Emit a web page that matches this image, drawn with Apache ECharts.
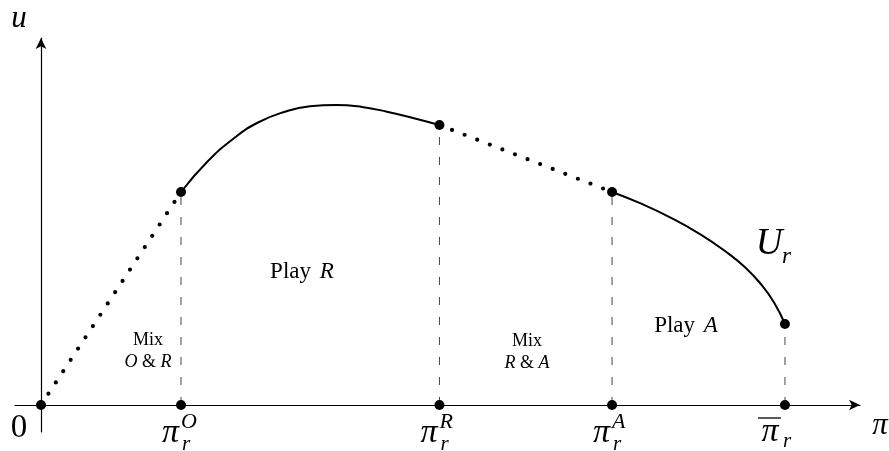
<!DOCTYPE html>
<html>
<head>
<meta charset="utf-8">
<script src="https://cdn.jsdelivr.net/npm/echarts@6/dist/echarts.min.js"></script>
<style>
    html, body { margin: 0; padding: 0; background: #fff; }
    #main { width: 889px; height: 451px; }
</style>
</head>
<body>
<div id="main"></div>
<script>
    // key points: 0, pi_r^O, pi_r^R, pi_r^A, bar pi_r
    var piKeys = [0, 1.0, 2.846, 4.079, 5.314];
    var uKeys = [0, 2.13, 2.80, 2.13, 0.81];
    var tickSups = ['', 'O', 'R', 'A', ''];

    // U_r on the "Play R" stretch
    var playRPi = [1.0, 1.186, 1.371, 1.55, 1.736, 1.921, 2.107, 2.293, 2.471, 2.657, 2.846];
    var playRU = [2.13, 2.43, 2.66, 2.825, 2.93, 2.987, 3.0, 2.98, 2.933, 2.87, 2.80];

    // U_r on the "Play A" stretch
    var playAPi = [4.079, 4.279, 4.493, 4.707, 4.9, 5.029, 5.136, 5.236, 5.314];
    var playAU = [2.13, 2.018, 1.877, 1.709, 1.525, 1.377, 1.22, 1.026, 0.81];

    // region texts (centre of each line) and their sizes
    var regionText = ['Mix', '{i|O} & {i|R}', 'Play {b|R}', 'Mix', '{i|R} & {i|A}', 'Play {b|A}'];
    var regionPi = [0.764, 0.764, 1.864, 3.471, 3.471, 4.607];
    var regionU = [0.65, 0.43, 1.33, 0.64, 0.42, 0.79];
    var regionSize = [18, 18, 23, 18, 18, 23];

    var serif = '"Liberation Serif", "DejaVu Serif", serif';

    var myChart = echarts.init(document.getElementById('main'));

    function pairs(xs, ys) {
        var out = [];
        for (var i = 0; i < xs.length; i++) out.push([xs[i], ys[i]]);
        return out;
    }

    var series = [];

    // dotted stretches (mixing)
    var dotStyle = {color: '#000', width: 4.2, type: [0, 13.5], cap: 'round'};
    series.push({
        type: 'line', showSymbol: false, silent: true,
        data: [[piKeys[0], uKeys[0]], [piKeys[1], uKeys[1]]],
        lineStyle: dotStyle
    });
    series.push({
        type: 'line', showSymbol: false, silent: true,
        data: [[piKeys[2], uKeys[2]], [piKeys[3], uKeys[3]]],
        lineStyle: dotStyle
    });

    // solid stretches
    series.push({
        type: 'line', showSymbol: false, smooth: true, silent: true,
        data: pairs(playRPi, playRU),
        lineStyle: {color: '#000', width: 2}
    });
    series.push({
        type: 'line', showSymbol: false, smooth: true, silent: true,
        data: pairs(playAPi, playAU),
        lineStyle: {color: '#000', width: 2}
    });

    // dashed drop lines
    for (var i = 1; i < piKeys.length; i++) {
        series.push({
            type: 'line', showSymbol: false, silent: true,
            data: [[piKeys[i], 0], [piKeys[i], uKeys[i]]],
            lineStyle: {color: '#444', width: 1, type: [8, 12]}
        });
    }

    // big dots, on the curve and on the axis
    var dots = pairs(piKeys, uKeys);
    for (var j = 1; j < piKeys.length; j++) dots.push([piKeys[j], 0]);
    series.push({
        type: 'scatter', symbolSize: 10, silent: true,
        itemStyle: {color: '#000', opacity: 1},
        data: dots, z: 5
    });

    var axisLine = {
        show: true, onZero: true,
        symbol: ['none', 'arrow'], symbolSize: [8, 11],
        lineStyle: {color: '#000', width: 1.2}
    };

    option = {
        animation: false,
        grid: {left: 15, right: 29, top: 38, bottom: 19},
        xAxis: {
            type: 'value', min: -0.1857, max: 5.85,
            axisLine: axisLine,
            axisTick: {show: false}, axisLabel: {show: false}, splitLine: {show: false}
        },
        yAxis: {
            type: 'value', min: -0.27, max: 3.67,
            axisLine: axisLine,
            axisTick: {show: false}, axisLabel: {show: false}, splitLine: {show: false}
        },
        series: series
    };
    myChart.setOption(option);

    // texts, placed through the chart's own scales
    function px(x, y) {
        return myChart.convertToPixel({gridIndex: 0}, [x, y]);
    }
    function txt(x, y, text, size, italic, align, rich) {
        return {
            type: 'text', x: x, y: y, z: 10, silent: true,
            style: {
                text: text, fill: '#000',
                font: (italic ? 'italic ' : '') + size + 'px ' + serif,
                textAlign: align || 'center', textVerticalAlign: 'middle',
                align: align || 'center', verticalAlign: 'middle',
                rich: rich
            }
        };
    }

    var g = [];
    var origin = px(0, 0);
    g.push(txt(origin[0] - 22, origin[1] + 23, '0', 33, false));
    g.push(txt(origin[0] - 22, 19, 'u', 31, true));
    g.push(txt(880, origin[1] + 21, 'π', 31, true));

    for (var k = 1; k < piKeys.length; k++) {
        var p = px(piKeys[k], 0);
        if (tickSups[k]) {
            g.push(txt(p[0] - 2, p[1] + 28, 'π', 34, true, 'right'));
            g.push(txt(p[0] + 0, p[1] + 17, tickSups[k], 22, true, 'left'));
            g.push(txt(p[0] + 1, p[1] + 39, 'r', 21, true, 'left'));
        } else {
            g.push(txt(p[0] - 15, p[1] + 27, 'π', 34, true));
            g.push({
                type: 'line', silent: true, z: 10,
                shape: {x1: p[0] - 27, y1: p[1] + 13, x2: p[0] - 4, y2: p[1] + 13},
                style: {stroke: '#000', lineWidth: 1.3}
            });
            g.push(txt(p[0] - 2, p[1] + 36, 'r', 21, true, 'left'));
        }
    }

    // U_r name next to the curve
    var uEnd = px(playAPi[5], playAU[5]);
    g.push(txt(uEnd[0] + 24, uEnd[1] - 23, 'U', 37, true));
    g.push(txt(uEnd[0] + 37, uEnd[1] - 10, 'r', 23, true, 'left'));

    for (var m = 0; m < regionText.length; m++) {
        var q = px(regionPi[m], regionU[m]);
        var rich = {
            i: {fontStyle: 'italic', fontSize: regionSize[m], fontFamily: serif},
            b: {fontStyle: 'italic', fontSize: regionSize[m], fontFamily: serif, padding: [0, 0, 0, 3]}
        };
        g.push(txt(q[0], q[1], regionText[m], regionSize[m], false, 'center', rich));
    }

    myChart.setOption({graphic: g});
</script>
</body>
</html>
